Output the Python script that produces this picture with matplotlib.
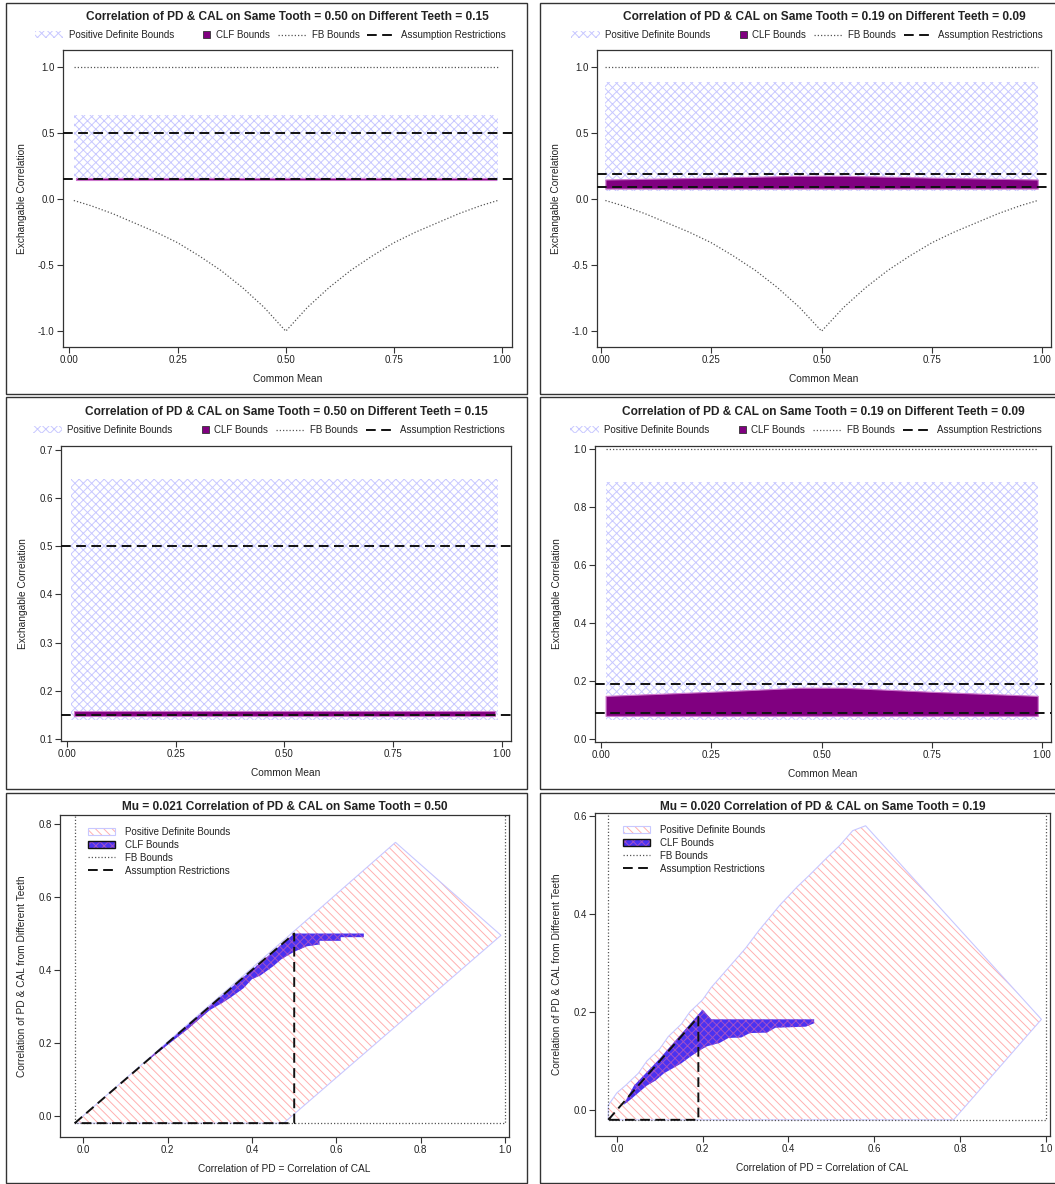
import matplotlib.pyplot as plt
from matplotlib.patches import Patch, Rectangle, Polygon
from matplotlib.lines import Line2D
from matplotlib.legend_handler import HandlerTuple, HandlerPatch

plt.rcParams['font.family'] = ['Liberation Sans', 'DejaVu Sans']
plt.rcParams['hatch.linewidth'] = 0.7

W, H = 1055, 1184

# ---- values ----
common_mean = [0.01, 0.05, 0.10, 0.15, 0.20, 0.25, 0.30, 0.35, 0.40, 0.45, 0.50,
               0.55, 0.60, 0.65, 0.70, 0.75, 0.80, 0.85, 0.90, 0.95, 0.99]
fb_lower = [-0.01, -0.05, -0.11, -0.18, -0.25, -0.33, -0.43, -0.54, -0.67, -0.82, -1.00,
            -0.82, -0.67, -0.54, -0.43, -0.33, -0.25, -0.18, -0.11, -0.05, -0.01]
fb_upper_x = [0.01, 0.99]
fb_upper = [1.0, 1.0]

top_titles = ['Correlation of PD & CAL on Same Tooth = 0.50 on Different Teeth = 0.15',
              'Correlation of PD & CAL on Same Tooth = 0.19 on Different Teeth = 0.09']

# scenario A: same tooth 0.50, different teeth 0.15
pd_x = [0.01, 0.99]
pd_lo_a = [0.14, 0.14]
pd_hi_a = [0.64, 0.64]
clf_x_a = [0.015, 0.985]
clf_lo_a = [0.148, 0.148]
clf_hi_a = [0.158, 0.158]
assume_a = [0.50, 0.15]

# scenario B: same tooth 0.19, different teeth 0.09
pd_lo_b = [0.065, 0.065]
pd_hi_b = [0.885, 0.885]
clf_x_b = [0.01, 0.25, 0.45, 0.55, 0.75, 0.99]
clf_lo_b = [0.08, 0.08, 0.08, 0.08, 0.08, 0.08]
clf_hi_b = [0.149, 0.163, 0.177, 0.177, 0.163, 0.149]
assume_b = [0.19, 0.09]

bottom_titles = ['Mu = 0.021 Correlation of PD & CAL on Same Tooth = 0.50',
                 'Mu = 0.020 Correlation of PD & CAL on Same Tooth = 0.19']

# bottom left polygons
pd5_x = [-0.02, 0.74, 0.99, 0.475]
pd5_y = [-0.02, 0.75, 0.495, -0.02]
clf5_x = [0.16, 0.50, 0.665, 0.665, 0.61, 0.61, 0.56, 0.56, 0.53, 0.51, 0.50, 0.47,
          0.45, 0.42, 0.40, 0.38, 0.35, 0.33, 0.30, 0.25, 0.16]
clf5_y = [0.162, 0.50, 0.50, 0.49, 0.49, 0.48, 0.48, 0.47, 0.465, 0.455, 0.45, 0.43,
          0.41, 0.385, 0.375, 0.35, 0.325, 0.31, 0.29, 0.24, 0.158]
assume5_x = [-0.02, 0.50, 0.50, -0.02]
assume5_y = [-0.02, 0.50, -0.02, -0.02]

# bottom right polygons
pd6_x = [-0.02, -0.02, 0.00, 0.02, 0.05, 0.07, 0.10, 0.12, 0.15, 0.17, 0.20, 0.22, 0.25,
         0.27, 0.30, 0.33, 0.38, 0.42, 0.45, 0.49, 0.52, 0.55, 0.58, 0.99, 0.785]
pd6_y = [-0.02, 0.01, 0.035, 0.05, 0.075, 0.10, 0.125, 0.15, 0.175, 0.20, 0.225, 0.25, 0.28,
         0.30, 0.33, 0.365, 0.418, 0.455, 0.48, 0.515, 0.54, 0.57, 0.58, 0.185, -0.02]
clf6_x = [0.015, 0.04, 0.10, 0.15, 0.18, 0.20, 0.21, 0.22, 0.46, 0.46, 0.44, 0.37, 0.35,
          0.31, 0.29, 0.26, 0.24, 0.21, 0.19, 0.17, 0.15, 0.13, 0.11, 0.09, 0.07, 0.05, 0.03]
clf6_y = [0.01, 0.05, 0.105, 0.155, 0.185, 0.205, 0.195, 0.185, 0.185, 0.177, 0.17, 0.168,
          0.158, 0.157, 0.148, 0.147, 0.137, 0.13, 0.12, 0.108, 0.095, 0.085, 0.075, 0.06,
          0.05, 0.035, 0.02]
assume6_x = [-0.02, 0.19, 0.19, -0.02]
assume6_y = [-0.02, 0.19, -0.02, -0.02]

fb_box_x = [-0.02, -0.02, 1.0, 1.0]
fb_box_y = [1.0, -0.02, -0.02, 1.0]

top_xticks = [0.0, 0.25, 0.5, 0.75, 1.0]
bottom_xticks = [0.0, 0.2, 0.4, 0.6, 0.8, 1.0]

# ---- styling ----
PD_HATCH = '#c8c8ff'
CLF_PURPLE = '#800080'
PD_RED = '#ffb0b0'
CLF_BLUE = '#4b32f0'
TXT = '#222222'
DOT = dict(color='#555555', lw=0.9, ls=(0, (1, 1.6)))
DASH = dict(color='#111111', lw=1.4, ls=(0, (5, 2.8)))
LABELS = ['Positive Definite Bounds', 'CLF Bounds', 'FB Bounds', 'Assumption Restrictions']

fig = plt.figure(figsize=(W / 100, H / 100), dpi=100)

# panel frames
for x0, x1 in [(6, 527), (540, 1062)]:
    for y0, y1 in [(3, 394), (397, 789), (793, 1183)]:
        fig.add_artist(Rectangle((x0 / W, 1 - y1 / H), (x1 - x0) / W, (y1 - y0) / H,
                                 transform=fig.transFigure, fill=False,
                                 edgecolor='#333333', lw=1))


def small_square(legend, orig_handle, xdescent, ydescent, width, height, fontsize):
    s = height * 1.05
    return Rectangle((-xdescent + width - s, -ydescent), s, s)


def make_ax(l, r, t, b):
    ax = fig.add_axes([l / W, 1 - b / H, (r - l) / W, (b - t) / H])
    for s in ax.spines.values():
        s.set_color('#333333')
        s.set_linewidth(0.9)
    ax.tick_params(direction='out', length=4, width=0.8, color='#333333',
                   labelsize=7, labelcolor=TXT, pad=2)
    return ax


def top_panel(rect, xlim, ylim, yticks, lo, hi, cx, clo, chi, assume, title, ty):
    ax = make_ax(*rect)
    ax.fill_between(pd_x, lo, hi, facecolor='white', edgecolor=PD_HATCH,
                    hatch='xxxx', linewidth=0, zorder=1)
    ax.fill_between(cx, clo, chi, facecolor=CLF_PURPLE, edgecolor='#cc77cc',
                    linewidth=0.8, zorder=2)
    ax.plot(fb_upper_x, fb_upper, zorder=3, **DOT)
    ax.plot(common_mean, fb_lower, zorder=3, **DOT)
    for a in assume:
        ax.axhline(a, zorder=4, **DASH)
    ax.set_xlim(*xlim)
    ax.set_ylim(*ylim)
    ax.set_xticks(top_xticks)
    ax.set_xticklabels(['%.2f' % v for v in top_xticks])
    ax.set_yticks(yticks)
    ax.set_yticklabels(['%.1f' % v for v in yticks])
    ax.set_xlabel('Common Mean', fontsize=7.3, color=TXT, labelpad=6)
    ax.set_ylabel('Exchangable Correlation', fontsize=7.3, color=TXT, labelpad=8)
    cxp = (rect[0] + rect[1]) / 2
    fig.text(cxp / W, 1 - ty / H, title, ha='center', va='center',
             fontsize=8.6, fontweight='bold', color=TXT)
    sq = Patch(facecolor=CLF_PURPLE, edgecolor='#333333', lw=0.6)
    handles = [Patch(facecolor='white', edgecolor=PD_HATCH, hatch='xxxx', lw=0),
               sq, Line2D([], [], **DOT), Line2D([], [], **DASH)]
    fig.legend(handles, LABELS, loc='center', bbox_to_anchor=((cxp - 17) / W, 1 - (ty + 18) / H),
               ncol=4, frameon=False, fontsize=7, handlelength=2.9,
               columnspacing=0.8, handletextpad=0.6, labelcolor=TXT,
               handler_map={sq: HandlerPatch(patch_func=small_square)})
    return ax


top_panel((63, 512, 50, 347), (-0.015, 1.023), (-1.12, 1.13), [-1.0, -0.5, 0.0, 0.5, 1.0],
          pd_lo_a, pd_hi_a, clf_x_a, clf_lo_a, clf_hi_a, assume_a, top_titles[0], 17)
top_panel((597, 1051, 50, 347), (-0.009, 1.02), (-1.12, 1.13), [-1.0, -0.5, 0.0, 0.5, 1.0],
          pd_lo_b, pd_hi_b, clf_x_b, clf_lo_b, clf_hi_b, assume_b, top_titles[1], 17)
top_panel((61, 511, 446, 741), (-0.014, 1.021), (0.096, 0.708),
          [0.1, 0.2, 0.3, 0.4, 0.5, 0.6, 0.7],
          pd_lo_a, pd_hi_a, clf_x_a, clf_lo_a, clf_hi_a, assume_a, top_titles[0], 412)
top_panel((595, 1051, 446, 742), (-0.014, 1.02), (-0.01, 1.01),
          [0.0, 0.2, 0.4, 0.6, 0.8, 1.0],
          pd_lo_b, pd_hi_b, clf_x_b, clf_lo_b, clf_hi_b, assume_b, top_titles[1], 412)


def bottom_panel(rect, xlim, ylim, yticks, pdx, pdy, cx, cy, ax_, ay_, title):
    ax = make_ax(*rect)
    ax.add_patch(Polygon(list(zip(pdx, pdy)), closed=True, facecolor='white',
                         edgecolor=PD_RED, hatch='\\\\\\\\', lw=0, zorder=1))
    ax.add_patch(Polygon(list(zip(pdx, pdy)), closed=True, fill=False,
                         edgecolor=PD_HATCH, lw=0.8, zorder=1.5))
    ax.add_patch(Polygon(list(zip(cx, cy)), closed=True, facecolor=CLF_BLUE,
                         edgecolor='#a050c8', hatch='xxxx', lw=0, zorder=2))
    ax.plot(fb_box_x, fb_box_y, zorder=3, **DOT)
    ax.plot(ax_, ay_, zorder=4, **DASH)
    ax.set_xlim(*xlim)
    ax.set_ylim(*ylim)
    ax.set_xticks(bottom_xticks)
    ax.set_xticklabels(['%.1f' % v for v in bottom_xticks])
    ax.set_yticks(yticks)
    ax.set_yticklabels(['%.1f' % v for v in yticks])
    ax.set_xlabel('Correlation of PD = Correlation of CAL', fontsize=7.3, color=TXT, labelpad=6)
    ax.set_ylabel('Correlation of PD & CAL from Different Teeth', fontsize=7.3,
                  color=TXT, labelpad=8)
    cxp = (rect[0] + rect[1]) / 2
    fig.text(cxp / W, 1 - 807 / H, title, ha='center', va='center',
             fontsize=8.6, fontweight='bold', color=TXT)
    handles = [(Patch(facecolor='white', edgecolor=PD_RED, hatch='\\\\\\\\', lw=0),
                Patch(fill=False, edgecolor=PD_HATCH, lw=0.8)),
               (Patch(facecolor=CLF_BLUE, edgecolor='#a050c8', hatch='xxxx', lw=0),
                Patch(fill=False, edgecolor='#111111', lw=1.0)),
               Line2D([], [], **DOT),
               Line2D([], [], **DASH)]
    ax.legend(handles, LABELS, loc='upper left',
              bbox_to_anchor=(22 / (rect[1] - rect[0]), 1 - 6 / (rect[3] - rect[2])),
              frameon=False, fontsize=7, handlelength=2.8, handletextpad=1.0,
              labelspacing=0.3, borderaxespad=0.2, labelcolor=TXT,
              handler_map={tuple: HandlerTuple(ndivide=1, pad=0)})
    return ax


bottom_panel((60, 509, 815, 1137), (-0.055, 1.009), (-0.058, 0.825),
             [0.0, 0.2, 0.4, 0.6, 0.8], pd5_x, pd5_y, clf5_x, clf5_y,
             assume5_x, assume5_y, bottom_titles[0])
bottom_panel((595, 1050, 813, 1136), (-0.051, 1.01), (-0.053, 0.606),
             [0.0, 0.2, 0.4, 0.6], pd6_x, pd6_y, clf6_x, clf6_y,
             assume6_x, assume6_y, bottom_titles[1])

fig.savefig('out.png', dpi=100)
